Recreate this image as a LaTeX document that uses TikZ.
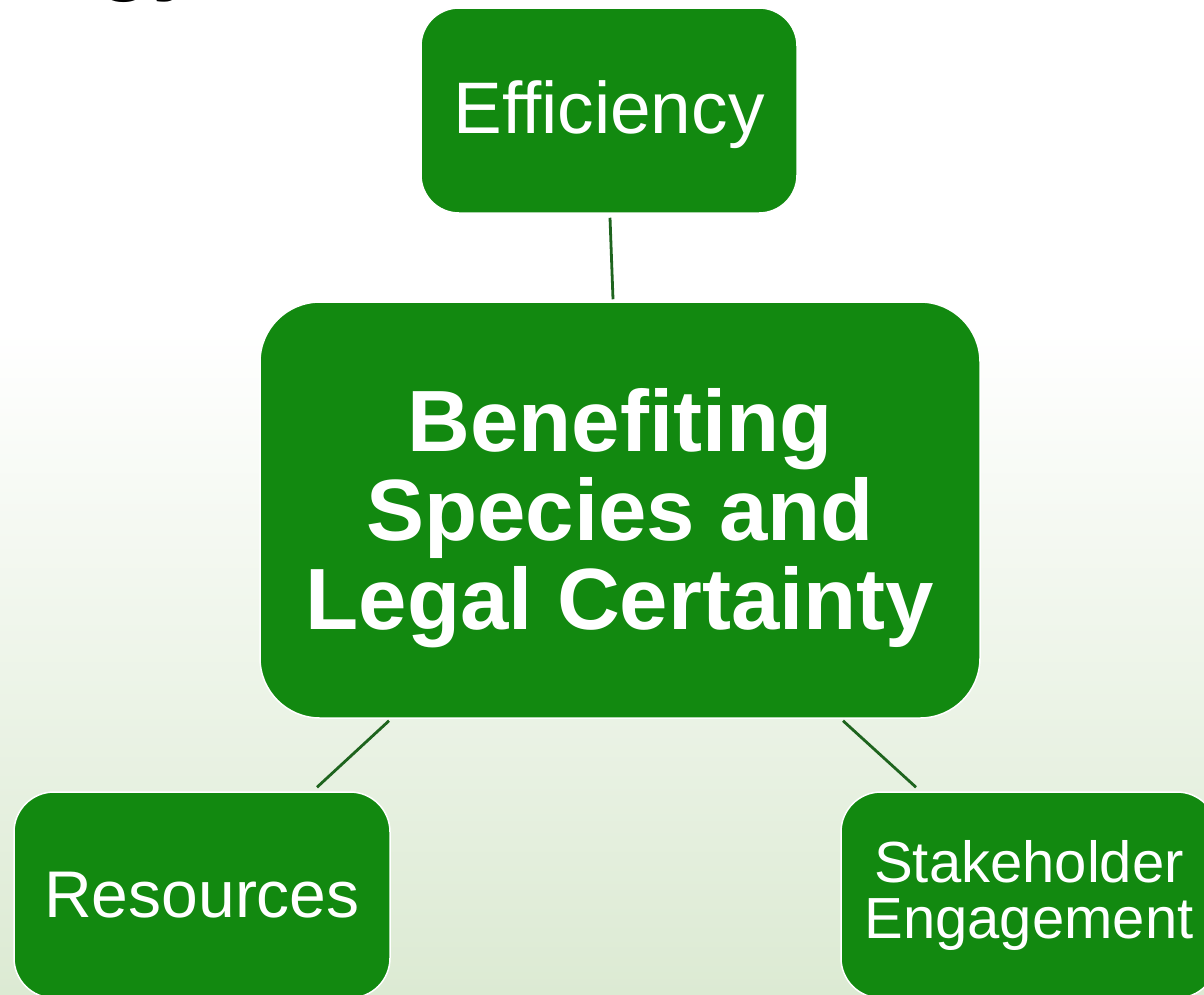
\documentclass[tikz,border=0pt]{standalone}
\usepackage{fontspec}
\setmainfont{Liberation Sans}
\usetikzlibrary{calc}
\definecolor{boxgreen}{HTML}{128910}
\definecolor{linegreen}{HTML}{1E641E}
\definecolor{bggreen}{HTML}{DCEAD3}
\newcommand{\lowerby}[2]{\raisebox{-#1}[\height][\depth]{#2}}
\tikzset{
  gbox/.style={rectangle, fill=boxgreen, draw=white, line width=1.5pt, text=white, align=center, inner sep=0pt},
  link/.style={draw=linegreen, line width=2.8pt}
}
\begin{document}
\begin{tikzpicture}[x=1pt,y=-1pt]
\useasboundingbox (0,0) rectangle (1204,994);
\clip (0,0) rectangle (1204,994);
\fill[white] (0,0) rectangle (1204,994);
\shade[top color=white, bottom color=bggreen] (0,330) rectangle (1204,994);
% cropped title fragment
\node[anchor=base west, inner sep=0pt, text=black, font=\fontsize{90}{90}\selectfont\bfseries] (title) at (97,-17) {gy};
% boxes
\node[gbox, minimum width=376pt, minimum height=205pt, rounded corners=38pt,
      font=\fontsize{73}{73}\selectfont] (eff) at (609,110.5) {\lowerby{4pt}{Efficiency}};
\node[gbox, minimum width=720pt, minimum height=416pt, rounded corners=60pt,
      font=\fontsize{87}{89}\selectfont\bfseries] (cen) at (620,510) {\lowerby{8pt}{Benefiting}\\\lowerby{8pt}{Species and}\\\lowerby{8pt}{Legal Certainty}};
\node[gbox, minimum width=376pt, minimum height=206pt, rounded corners=40pt,
      font=\fontsize{66}{66}\selectfont] (res) at (202,895) {Resources};
\node[gbox, minimum width=376pt, minimum height=206pt, rounded corners=40pt,
      font=\fontsize{58}{56}\selectfont] (stk) at (1029,895) {Stakeholder\\Engagement};
% connectors
\draw[link] ($(eff.south)+(1,4)$) -- ($(cen.north)+(-7,-2)$);
\draw[link] ($(cen.south)+(-231,2)$) -- ($(res.north)+(115,-4)$);
\draw[link] ($(cen.south)+(223,2)$) -- ($(stk.north)+(-113,-4)$);
\end{tikzpicture}
\end{document}
